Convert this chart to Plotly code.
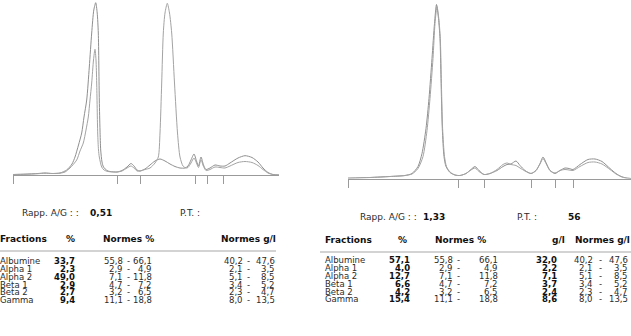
import plotly.graph_objects as go

W, H = 631, 336

# ---------------- data ----------------
# Left report: densitometric curves (mobility units, absorbance units)
left_x_normal = [13, 25, 38, 45, 52, 60, 66.7, 72, 75, 78.5, 81.7, 84, 86.7, 89.3, 91.7, 93.8, 95.7, 97.2, 98.3,
                 99.3, 100, 100.7, 102, 103.5, 107, 110, 117, 122, 127, 131, 134, 137, 140, 145, 150, 155, 160,
                 165, 170, 175, 180, 185, 188, 191, 194, 196.5, 198.5, 201, 203.5, 206, 210, 215, 220, 225, 230,
                 238, 245, 252, 258, 263, 268, 273, 279]
left_y_normal = [0.5, 0.8, 1.5, 2, 1.5, 2, 5, 11, 18, 30, 42, 58, 75, 108, 142, 165, 172.3, 162, 142,
                 75, 45, 25, 13, 8, 4.5, 3.5, 3, 4.5, 8, 11.5, 9, 5, 4, 6, 10, 14, 16,
                 14, 11, 8.5, 7, 7, 9, 15, 21, 14, 9, 18, 10, 5.5, 7, 10, 9, 9, 12,
                 17, 19.3, 17.5, 13, 7, 2.5, 0.5, 0]
left_x_patient = [13, 25, 38, 45, 52, 60, 65, 70, 76.7, 80, 83.3, 86, 88.3, 90, 91.7, 93.5, 95, 96, 96.7,
                  97.7, 98.5, 99.3, 101.7, 104, 108, 117, 122, 127, 131, 134, 137, 140, 145, 150, 155, 158.3,
                  160, 161.7, 163.3, 165, 167.3, 169.5, 171.7, 174.5, 177.5, 180, 183, 186, 188, 191, 194,
                  196.5, 198.5, 201, 203.5, 206, 210, 215, 220, 225, 230, 238, 245, 252, 258, 263, 268, 273, 279]
left_y_patient = [0.5, 0.8, 1.3, 1.8, 1.5, 1.8, 3, 7, 15, 24, 32, 45, 58, 75, 92, 115, 125.7, 115, 92,
                  42, 25, 18, 8, 5, 3.5, 3, 4, 7, 9, 7, 4, 4, 5.5, 7, 12, 18,
                  42, 92, 142, 162, 171.7, 162, 142, 92, 42, 18, 9, 7, 7.5, 12, 17,
                  12, 7.5, 15, 8.5, 4.5, 5.5, 8, 7.5, 7, 9, 12.5, 13.5, 12.5, 9.5, 5.5, 2, 0.4, 0]
left_bounds = [13, 117, 140, 195, 207, 223]

# Right report
right_x_a = [348, 370, 390, 405, 412, 418, 422, 426, 429, 432, 434.5, 436.5, 438.5, 440, 441, 442.3, 444, 446,
             450, 455, 460, 466, 471, 475, 479, 484, 490, 497, 503, 507, 511, 516, 520, 525, 531, 536, 540,
             543, 546, 550, 555, 560, 565, 569, 573, 580, 588, 595, 602, 610, 616, 621, 626, 631]
right_y_a = [0.3, 1, 2, 3, 5, 12, 25, 50, 80, 120, 155, 174, 160, 140, 100, 50, 22, 12,
             6, 3.5, 3, 5, 9, 12, 8, 4, 5, 8, 12, 14, 14.5, 17.5, 13, 8, 5, 8, 15,
             21.5, 16, 8, 5, 8, 10.5, 10, 9, 14, 19, 19.5, 17, 10, 5, 2, 0.5, 0]
right_x_b = [348, 370, 390, 405, 412, 418, 423, 427, 430, 433, 435, 437, 438.8, 440.3, 441.3, 442.6, 444.5,
             446.5, 450, 455, 460, 466, 471, 475, 479, 484, 490, 497, 503, 507, 511, 516, 520, 525, 531,
             536, 540, 543, 546, 550, 555, 560, 565, 569, 573, 580, 588, 595, 602, 610, 616, 621, 626, 631]
right_y_b = [0.3, 1, 2, 3, 4.5, 10, 22, 48, 80, 120, 155, 172, 160, 140, 100, 50, 22,
             12, 6.5, 3.5, 3, 5, 8.5, 10.5, 7, 4, 5, 9, 14, 15.5, 14, 13, 10.5, 7.5, 5,
             8, 14.5, 20, 15, 8, 5.5, 8, 9, 8.5, 8, 12, 16, 16.5, 14.5, 9, 4.5, 2, 0.5, 0]
right_bounds = [348, 458, 484, 531, 555, 573]

# Tables
fractions = ["Albumine", "Alpha 1", "Alpha 2", "Beta 1", "Beta 2", "Gamma"]
pct_left = [33.7, 2.3, 49.0, 2.9, 2.7, 9.4]
pct_right = [57.1, 4.0, 12.7, 6.6, 4.2, 15.4]
gl_right = [32.0, 2.2, 7.1, 3.7, 2.4, 8.6]
normes_pct_low = [55.8, 2.9, 7.1, 4.7, 3.2, 11.1]
normes_pct_high = [66.1, 4.9, 11.8, 7.2, 6.5, 18.8]
normes_gl_low = [40.2, 2.1, 5.1, 3.4, 2.3, 8.0]
normes_gl_high = [47.6, 3.5, 8.5, 5.2, 4.7, 13.5]
ratio_ag = ["0,51", "1,33"]
prot_tot = ["", "56"]


def fr(v):
    return f"{v:.1f}".replace(".", ",")


CURVE1 = "#8f8f8f"
CURVE2 = "#a3a3a3"
TXT = "#2b2b2b"
BOLD = "#111111"
FONT = "DejaVu Sans, Liberation Sans, Arial, sans-serif"
FS = 9
FR = 8.5

fig = go.Figure()
line_kw = dict(shape="spline", smoothing=0.7)
fig.add_trace(go.Scatter(x=left_x_normal, y=left_y_normal, mode="lines", xaxis="x", yaxis="y",
                         line=dict(color=CURVE1, width=1, **line_kw), name="Normal", hoverinfo="skip"))
fig.add_trace(go.Scatter(x=left_x_patient, y=left_y_patient, mode="lines", xaxis="x", yaxis="y",
                         line=dict(color=CURVE2, width=1, **line_kw), name="Patient", hoverinfo="skip"))
fig.add_trace(go.Scatter(x=right_x_a, y=right_y_a, mode="lines", xaxis="x2", yaxis="y2",
                         line=dict(color=CURVE1, width=1, **line_kw), name="Patient", hoverinfo="skip"))
fig.add_trace(go.Scatter(x=right_x_b, y=right_y_b, mode="lines", xaxis="x2", yaxis="y2",
                         line=dict(color=CURVE2, width=1, **line_kw), name="Normal", hoverinfo="skip"))

xax = dict(showline=True, linecolor="#9a9a9a", linewidth=1, ticks="outside", ticklen=8, tickwidth=1,
           tickcolor="#9a9a9a", showticklabels=False, showgrid=False, zeroline=False, fixedrange=True)
fig.update_layout(
    xaxis=dict(domain=[13 / W, 279 / W], range=[13, 279], tickvals=left_bounds, anchor="y", **xax),
    yaxis=dict(domain=[1 - 175 / H, 1], range=[0, 175], visible=False, anchor="x", fixedrange=True),
    xaxis2=dict(domain=[348 / W, 1], range=[348, 631], tickvals=right_bounds, anchor="y2", **xax),
    yaxis2=dict(domain=[1 - 178.5 / H, 1], range=[0, 178.5], visible=False, anchor="x2", fixedrange=True),
)

ann = []


def txt(x, y, s, anchor="left", bold=False, size=FR):
    ann.append(dict(x=x / W, y=1 - y / H, xref="paper", yref="paper",
                    text=f"<b>{s}</b>" if bold else s, showarrow=False, xanchor=anchor, yanchor="middle",
                    borderpad=0, borderwidth=0,
                    font=dict(family=FONT, size=size, color=BOLD if bold else TXT)))


# ----- left report text -----
txt(22, 213, "Rapp. A/G : :", size=FS)
txt(90, 213, ratio_ag[0], bold=True, size=FS)
txt(180, 213, "P.T. :", size=FS)
txt(0, 239, "Fractions", bold=True, size=FS)
txt(75, 239, "%", anchor="right", bold=True, size=FS)
txt(103, 239, "Normes %", bold=True, size=FS)
txt(276, 239, "Normes g/l", anchor="right", bold=True, size=FS)
rows_left = [261, 269, 277, 285, 292, 300]
for i, y in enumerate(rows_left):
    txt(0, y, fractions[i])
    txt(75, y, fr(pct_left[i]), anchor="right", bold=True)
    txt(123, y, fr(normes_pct_low[i]), anchor="right")
    txt(128, y, "-", anchor="center")
    txt(152, y, fr(normes_pct_high[i]), anchor="right")
    txt(243, y, fr(normes_gl_low[i]), anchor="right")
    txt(248, y, "-", anchor="center")
    txt(275, y, fr(normes_gl_high[i]), anchor="right")

# ----- right report text -----
txt(360, 217, "Rapp. A/G : :", size=FS)
txt(423, 217, ratio_ag[1], bold=True, size=FS)
txt(517, 217, "P.T. :", size=FS)
txt(568, 217, prot_tot[1], bold=True, size=FS)
txt(325, 240, "Fractions", bold=True, size=FS)
txt(407, 240, "%", anchor="right", bold=True, size=FS)
txt(435, 240, "Normes %", bold=True, size=FS)
txt(565, 240, "g/l", anchor="right", bold=True, size=FS)
txt(630, 240, "Normes g/l", anchor="right", bold=True, size=FS)
rows_right = [260, 268, 276, 284, 292, 299]
for i, y in enumerate(rows_right):
    txt(325, y, fractions[i])
    txt(410, y, fr(pct_right[i]), anchor="right", bold=True)
    txt(453, y, fr(normes_pct_low[i]), anchor="right")
    txt(458, y, "-", anchor="center")
    txt(498, y, fr(normes_pct_high[i]), anchor="right")
    txt(557, y, fr(gl_right[i]), anchor="right", bold=True)
    txt(593, y, fr(normes_gl_low[i]), anchor="right")
    txt(600, y, "-", anchor="center")
    txt(628, y, fr(normes_gl_high[i]), anchor="right")

shapes = [
    dict(type="line", xref="paper", yref="paper", x0=0, x1=276 / W, y0=1 - 251 / H, y1=1 - 251 / H,
         line=dict(color="#c4c4c4", width=1.5)),
    dict(type="line", xref="paper", yref="paper", x0=320 / W, x1=1, y0=1 - 252 / H, y1=1 - 252 / H,
         line=dict(color="#c4c4c4", width=1.5)),
]

fig.update_layout(width=W, height=H, margin=dict(l=0, r=0, t=0, b=0), showlegend=False,
                  paper_bgcolor="white", plot_bgcolor="white", annotations=ann, shapes=shapes,
                  font=dict(family=FONT, size=FS, color=TXT), hovermode=False)
fig.write_html("out.html", config={"displayModeBar": False, "staticPlot": True},
               post_script="document.body.style.margin='0';document.body.style.padding='0';"
                           "document.documentElement.style.overflow='hidden';")
